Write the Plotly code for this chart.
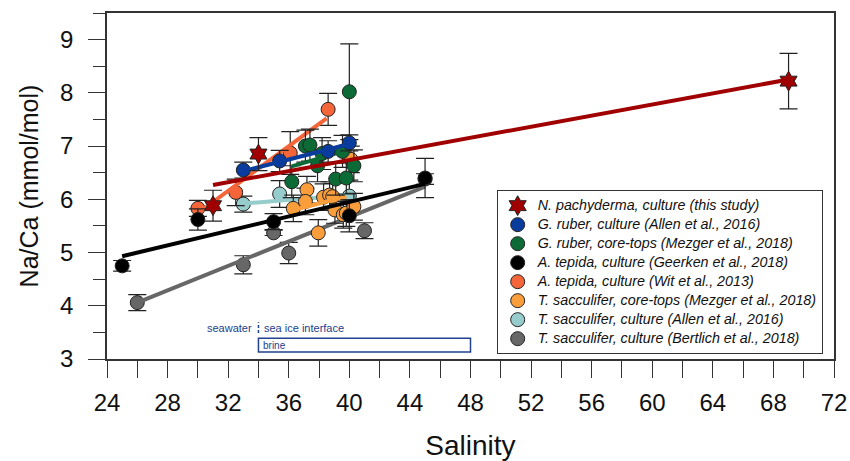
import plotly.graph_objects as go

# ---------------- data ----------------
labels = [
    "N. pachyderma, culture (this study)",
    "G. ruber, culture (Allen et al., 2016)",
    "G. ruber, core-tops (Mezger et al., 2018)",
    "A. tepida, culture (Geerken et al., 2018)",
    "A. tepida, culture (Wit et al., 2013)",
    "T. sacculifer, core-tops (Mezger et al., 2018)",
    "T. sacculifer, culture (Allen et al., 2016)",
    "T. sacculifer, culture (Bertlich et al., 2018)",
]
colors = ["#a00000", "#0a3c9e", "#0b6a36", "#000000", "#f4663a", "#fa9e3c", "#96cdcc", "#676767"]

npach_sal = [31.0, 34.0, 69.0]
npach_naca = [5.88, 6.85, 8.22]
npach_err = [0.29, 0.31, 0.52]
npach_fit_x = [31.0, 69.0]
npach_fit_y = [6.27, 8.25]

gruber_cul_sal = [33.0, 35.4, 38.6, 40.0]
gruber_cul_naca = [6.55, 6.72, 6.90, 7.06]
gruber_cul_err = [0.15, 0.2, 0.2, 0.15]
gruber_cul_fit_x = [33.0, 40.0]
gruber_cul_fit_y = [6.53, 7.04]

gruber_ct_sal = [36.2, 37.1, 37.4, 37.9, 38.2, 39.1, 39.55, 39.8, 40.0, 40.3]
gruber_ct_naca = [6.33, 7.00, 7.02, 6.63, 6.86, 6.38, 6.90, 6.40, 8.02, 6.63]
gruber_ct_err = [0.3, 0.3, 0.3, 0.3, 0.3, 0.3, 0.3, 0.3, 0.9, 0.3]
gruber_ct_fit_x = [36.2, 39.8]
gruber_ct_fit_y = [6.62, 6.92]

atep_g_sal = [25.0, 30.0, 35.0, 40.0, 45.0]
atep_g_naca = [4.75, 5.62, 5.58, 5.69, 6.40]
atep_g_err = [0.10, 0.20, 0.15, 0.30, 0.37]
atep_g_fit_x = [25.0, 45.0]
atep_g_fit_y = [4.93, 6.29]

atep_w_sal = [30.0, 32.5, 36.1, 38.6]
atep_w_naca = [5.83, 6.13, 6.87, 7.69]
atep_w_err = [0.15, 0.25, 0.40, 0.30]
atep_w_fit_x = [30.0, 38.5]
atep_w_fit_y = [5.74, 7.52]

tsac_ct_sal = [36.3, 37.2, 37.1, 37.95, 38.3, 38.7, 38.9, 39.05, 39.6, 39.8, 40.1, 40.3]
tsac_ct_naca = [5.83, 6.18, 5.96, 5.37, 6.04, 6.08, 6.05, 5.80, 5.71, 5.74, 6.75, 5.86]
tsac_ct_err = [0.25] * 12
tsac_ct_fit_x = [36.3, 39.8]
tsac_ct_fit_y = [5.80, 6.05]

tsac_a_sal = [33.0, 35.4, 40.0]
tsac_a_naca = [5.91, 6.10, 6.06]
tsac_a_err = [0.15, 0.25, 0.30]
tsac_a_fit_x = [33.0, 40.0]
tsac_a_fit_y = [5.92, 6.08]

tsac_b_sal = [26.0, 33.0, 35.0, 36.0, 41.0, 45.0]
tsac_b_naca = [4.06, 4.77, 5.37, 4.99, 5.41, 6.38]
tsac_b_err = [0.15, 0.17, 0.05, 0.20, 0.15, 0.10]
tsac_b_fit_x = [26.0, 45.0]
tsac_b_fit_y = [4.06, 6.24]

series = [
    (npach_sal, npach_naca, npach_err, npach_fit_x, npach_fit_y),
    (gruber_cul_sal, gruber_cul_naca, gruber_cul_err, gruber_cul_fit_x, gruber_cul_fit_y),
    (gruber_ct_sal, gruber_ct_naca, gruber_ct_err, gruber_ct_fit_x, gruber_ct_fit_y),
    (atep_g_sal, atep_g_naca, atep_g_err, atep_g_fit_x, atep_g_fit_y),
    (atep_w_sal, atep_w_naca, atep_w_err, atep_w_fit_x, atep_w_fit_y),
    (tsac_ct_sal, tsac_ct_naca, tsac_ct_err, tsac_ct_fit_x, tsac_ct_fit_y),
    (tsac_a_sal, tsac_a_naca, tsac_a_err, tsac_a_fit_x, tsac_a_fit_y),
    (tsac_b_sal, tsac_b_naca, tsac_b_err, tsac_b_fit_x, tsac_b_fit_y),
]

x_ticks = list(range(24, 73, 4))
y_ticks = list(range(3, 10))

FONT = "Arial, Liberation Sans, sans-serif"
ANNO_BLUE = "#22418f"
AX = "#333333"

fig = go.Figure()

# draw from the last series to the first so the stars end up on top
for i in reversed(range(len(series))):
    sal, naca, err, fx, fy = series[i]
    is_star = i == 0
    fig.add_trace(go.Scatter(
        x=sal, y=naca, mode="markers",
        name="<span style='font-size:14.3px'><i>" + labels[i] + "</i></span>",
        legendrank=i + 1,
        error_y=dict(type="data", array=err, visible=True, color="#222222",
                     thickness=1.2, width=9),
        marker=dict(symbol="hexagram" if is_star else "circle",
                    size=15 if is_star else 14, color=colors[i],
                    line=dict(color="#222222", width=1)),
    ))
    fig.add_trace(go.Scatter(
        x=fx, y=fy, mode="lines", showlegend=False, hoverinfo="skip",
        line=dict(color=colors[i], width=4),
    ))

# annotation: seawater / sea ice interface / brine
fig.add_shape(type="line", x0=34, x1=34, y0=3.49, y1=3.69, xref="x", yref="y",
              line=dict(color=ANNO_BLUE, width=1.5, dash="3px,2px"))
fig.add_shape(type="rect", x0=34, x1=48, y0=3.13, y1=3.39, xref="x", yref="y",
              line=dict(color=ANNO_BLUE, width=1.5), fillcolor="white")
fig.add_annotation(x=33.7, y=3.59, text="seawater", showarrow=False, xanchor="right",
                   font=dict(family=FONT, size=11, color=ANNO_BLUE))
fig.add_annotation(x=34.25, y=3.59, text="sea ice interface", showarrow=False, xanchor="left",
                   font=dict(family=FONT, size=11, color=ANNO_BLUE))
fig.add_annotation(x=34.15, y=3.26, text="brine", showarrow=False, xanchor="left",
                   font=dict(family=FONT, size=10, color=ANNO_BLUE))

fig.update_layout(
    width=850, height=461,
    margin=dict(l=107, r=16, t=13, b=102, autoexpand=False),
    paper_bgcolor="white", plot_bgcolor="white",
    font=dict(family=FONT, color="#111111"),
    showlegend=True,
    legend=dict(x=0.536, y=0.488, xanchor="left", yanchor="top",
                bgcolor="white", bordercolor=AX, borderwidth=1,
                font=dict(family=FONT, size=12, color="#111111"),
                traceorder="normal", itemsizing="trace"),
    xaxis=dict(range=[24, 72], tickvals=x_ticks, ticktext=[str(v) for v in x_ticks],
               ticks="outside", ticklen=17, tickwidth=1.3, tickcolor=AX,
               minor=dict(dtick=2, ticks="outside", ticklen=17, tickwidth=1.3, tickcolor=AX),
               showline=True, linecolor=AX, linewidth=1.5, mirror=True,
               showgrid=False, zeroline=False, automargin=False,
               tickfont=dict(size=24, color="#111111"), ticklabelstandoff=4,
               title=dict(text="Salinity", font=dict(size=28, color="#111111"), standoff=24)),
    yaxis=dict(range=[3, 9.5], tickvals=y_ticks, ticktext=[str(v) for v in y_ticks],
               ticks="outside", ticklen=17, tickwidth=1.3, tickcolor=AX,
               minor=dict(dtick=0.5, ticks="outside", ticklen=12, tickwidth=1.3, tickcolor=AX),
               showline=True, linecolor=AX, linewidth=1.5, mirror=True,
               showgrid=False, zeroline=False, automargin=False,
               tickfont=dict(size=24, color="#111111"), ticklabelstandoff=10,
               title=dict(text="Na/Ca (mmol/mol)", font=dict(size=25, color="#111111"), standoff=14)),
)

fig.write_html("out.html")
